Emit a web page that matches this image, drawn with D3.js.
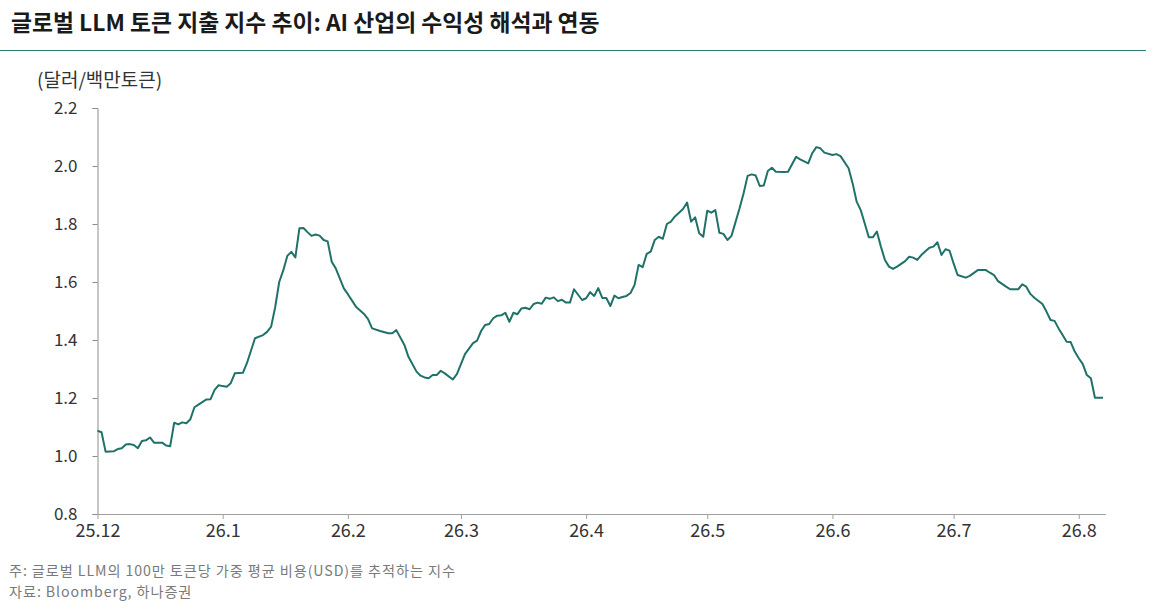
<!DOCTYPE html>
<html>
<head>
<meta charset="utf-8">
<script src="https://cdn.jsdelivr.net/npm/d3@7"></script>
<style>
  body { margin: 0; background: #fff; font-family: "Noto Sans CJK KR", "Noto Sans", sans-serif; }
</style>
</head>
<body>
<div id="chart"></div>
<script>
// 날짜(일별), 지수 값 (달러/백만토큰)
const dates = [
  "2025-12-01","2025-12-02","2025-12-03","2025-12-05","2025-12-06","2025-12-07","2025-12-08","2025-12-09","2025-12-10","2025-12-11",
  "2025-12-12","2025-12-13","2025-12-14","2025-12-15","2025-12-17","2025-12-18","2025-12-19","2025-12-20","2025-12-21","2025-12-22",
  "2025-12-23","2025-12-24","2025-12-25","2025-12-26","2025-12-28","2025-12-29","2025-12-30","2025-12-31",
  "2026-01-01","2026-01-02","2026-01-03","2026-01-04","2026-01-06","2026-01-07","2026-01-09","2026-01-11","2026-01-12","2026-01-13",
  "2026-01-14","2026-01-15","2026-01-16","2026-01-17","2026-01-18","2026-01-19","2026-01-20","2026-01-21","2026-01-22","2026-01-23",
  "2026-01-24","2026-01-25","2026-01-26","2026-01-27","2026-01-28","2026-01-29","2026-01-31",
  "2026-02-01","2026-02-03","2026-02-05","2026-02-06","2026-02-07","2026-02-09","2026-02-11","2026-02-12","2026-02-13","2026-02-15",
  "2026-02-16","2026-02-18","2026-02-19","2026-02-20","2026-02-21","2026-02-22","2026-02-23","2026-02-24","2026-02-25","2026-02-27","2026-02-28",
  "2026-03-02","2026-03-04","2026-03-05","2026-03-06","2026-03-07","2026-03-08","2026-03-09","2026-03-10","2026-03-11","2026-03-12",
  "2026-03-13","2026-03-14","2026-03-15","2026-03-16","2026-03-17","2026-03-18","2026-03-19","2026-03-20","2026-03-21","2026-03-22",
  "2026-03-23","2026-03-24","2026-03-25","2026-03-26","2026-03-27","2026-03-28","2026-03-29","2026-03-31",
  "2026-04-01","2026-04-02","2026-04-03","2026-04-04","2026-04-05","2026-04-06","2026-04-07","2026-04-08","2026-04-09","2026-04-10",
  "2026-04-11","2026-04-12","2026-04-13","2026-04-14","2026-04-15","2026-04-16","2026-04-17","2026-04-18","2026-04-19","2026-04-20",
  "2026-04-21","2026-04-22","2026-04-23","2026-04-25","2026-04-26","2026-04-27","2026-04-28","2026-04-29","2026-04-30",
  "2026-05-01","2026-05-02","2026-05-03","2026-05-04","2026-05-05","2026-05-06","2026-05-07","2026-05-09","2026-05-10","2026-05-11",
  "2026-05-12","2026-05-13","2026-05-14","2026-05-15","2026-05-16","2026-05-17","2026-05-18","2026-05-20","2026-05-21","2026-05-23",
  "2026-05-24","2026-05-26","2026-05-27","2026-05-28","2026-05-29","2026-05-30",
  "2026-06-01","2026-06-02","2026-06-03","2026-06-05","2026-06-06","2026-06-07","2026-06-08","2026-06-09","2026-06-10","2026-06-11",
  "2026-06-12","2026-06-13","2026-06-14","2026-06-15","2026-06-16","2026-06-17","2026-06-19","2026-06-20","2026-06-21","2026-06-22",
  "2026-06-23","2026-06-25","2026-06-26","2026-06-27","2026-06-28","2026-06-29","2026-06-30",
  "2026-07-01","2026-07-02","2026-07-04","2026-07-05","2026-07-07","2026-07-09","2026-07-10","2026-07-11","2026-07-12","2026-07-14",
  "2026-07-15","2026-07-17","2026-07-18","2026-07-19","2026-07-20","2026-07-21","2026-07-23","2026-07-24","2026-07-25","2026-07-26",
  "2026-07-27","2026-07-28","2026-07-29","2026-07-30","2026-07-31",
  "2026-08-01","2026-08-02","2026-08-03","2026-08-04","2026-08-05","2026-08-07"
];
const values = [
  1.087,1.082,1.015,1.016,1.024,1.027,1.040,1.041,1.038,1.027,
  1.052,1.054,1.064,1.046,1.046,1.036,1.034,1.115,1.109,1.116,
  1.113,1.127,1.168,1.177,1.195,1.196,1.228,1.244,
  1.241,1.239,1.251,1.285,1.287,1.320,1.406,1.417,1.428,1.446,
  1.513,1.600,1.640,1.690,1.704,1.685,1.785,1.786,1.772,1.759,
  1.764,1.760,1.745,1.740,1.670,1.647,1.578,
  1.558,1.515,1.490,1.472,1.440,1.431,1.423,1.423,1.434,1.383,
  1.342,1.291,1.277,1.271,1.268,1.279,1.279,1.294,1.285,1.264,1.282,
  1.351,1.389,1.398,1.431,1.452,1.455,1.475,1.484,1.485,1.494,
  1.463,1.494,1.489,1.509,1.511,1.506,1.524,1.529,1.525,1.546,
  1.542,1.547,1.534,1.539,1.529,1.529,1.575,1.538,
  1.544,1.565,1.552,1.579,1.545,1.545,1.517,1.553,1.544,1.548,
  1.552,1.562,1.590,1.659,1.651,1.697,1.705,1.745,1.756,1.749,
  1.800,1.808,1.826,1.852,1.874,1.808,1.823,1.768,1.756,
  1.846,1.839,1.848,1.770,1.766,1.745,1.759,1.854,1.906,1.966,
  1.971,1.967,1.931,1.933,1.983,1.994,1.980,1.979,1.980,2.032,
  2.023,2.009,2.044,2.065,2.061,2.046,
  2.038,2.041,2.034,1.992,1.940,1.877,1.848,1.802,1.754,1.754,
  1.774,1.722,1.676,1.653,1.645,1.653,1.672,1.687,1.684,1.676,
  1.693,1.718,1.722,1.737,1.693,1.713,1.708,
  1.664,1.624,1.615,1.621,1.641,1.641,1.632,1.624,1.603,1.584,
  1.575,1.575,1.592,1.584,1.559,1.546,1.524,1.498,1.469,1.466,
  1.440,1.417,1.394,1.393,1.360,
  1.337,1.317,1.279,1.268,1.201,1.201
];
const yTicks = [0.8, 1.0, 1.2, 1.4, 1.6, 1.8, 2.0, 2.2];
const xTickDates = ["2025-12-01","2026-01-01","2026-02-01","2026-03-01","2026-04-01","2026-05-01","2026-06-01","2026-07-01","2026-08-01"];
const xTickLabels = ["25.12","26.1","26.2","26.3","26.4","26.5","26.6","26.7","26.8"];

const titleText = "글로벌 LLM 토큰 지출 지수 추이: AI 산업의 수익성 해석과 연동";
const unitText = "(달러/백만토큰)";
const notes = ["주: 글로벌 LLM의 100만 토큰당 가중 평균 비용(USD)를 추적하는 지수", "자료: Bloomberg, 하나증권"];

const W = 1162, H = 609;
const parse = d3.timeParse("%Y-%m-%d");
const data = dates.map((d, i) => ({ date: parse(d), value: values[i] }));

const svg = d3.select("#chart").append("svg")
  .attr("width", W).attr("height", H);

// 제목
svg.append("text")
  .attr("x", 11).attr("y", 31)
  .style("font-size", "22.8px").style("font-weight", "bold").style("fill", "#1a1a1a")
  .text(titleText);

svg.append("line")
  .attr("x1", 0).attr("x2", 1146).attr("y1", 50.5).attr("y2", 50.5)
  .attr("stroke", "#2e7d74").attr("stroke-width", 1);

const x = d3.scaleTime()
  .domain([parse("2025-12-01"), parse("2026-08-07")])
  .range([97.5, 1103]);
const y = d3.scaleLinear().domain([0.8, 2.2]).range([514, 108]);

// y축
const yAxis = svg.append("g")
  .attr("transform", "translate(97.5,0)")
  .call(d3.axisLeft(y).tickValues(yTicks).tickFormat(d3.format(".1f")).tickSize(5).tickPadding(15));
yAxis.select(".domain").attr("stroke", "#8c8c8c");
yAxis.selectAll(".tick line").attr("stroke", "#8c8c8c");
yAxis.selectAll(".tick text")
  .style("font-family", "'Noto Sans CJK KR', sans-serif")
  .style("font-size", "17px").style("fill", "#333");

// x축
const xAxis = svg.append("g")
  .attr("transform", "translate(0,514)")
  .call(d3.axisBottom(x)
    .tickValues(xTickDates.map(parse))
    .tickFormat((d, i) => xTickLabels[i])
    .tickSizeInner(5).tickSizeOuter(0).tickPadding(5));
xAxis.select(".domain").attr("stroke", "#a0a0a0").attr("d", "M97.5,0.5H1106");
xAxis.selectAll(".tick line").attr("stroke", "#a0a0a0");
xAxis.selectAll(".tick text")
  .style("font-family", "'Noto Sans CJK KR', sans-serif")
  .style("font-size", "18px").style("fill", "#333");

// 단위
svg.append("text")
  .attr("x", 37).attr("y", 87)
  .style("font-size", "19px").style("fill", "#333")
  .text(unitText);

// 선
svg.append("path")
  .datum(data)
  .attr("fill", "none")
  .attr("stroke", "#1f7268")
  .attr("stroke-width", 2)
  .attr("stroke-linejoin", "round")
  .attr("d", d3.line().x(d => x(d.date)).y(d => y(d.value)));

// 주석
svg.selectAll(".note")
  .data(notes)
  .enter().append("text")
  .attr("class", "note")
  .attr("x", 9)
  .attr("y", (d, i) => 576 + i * 20.5)
  .style("font-size", "14.2px").style("letter-spacing", "0.9px").style("fill", "#7a7a7a")
  .text(d => d);
</script>
</body>
</html>
